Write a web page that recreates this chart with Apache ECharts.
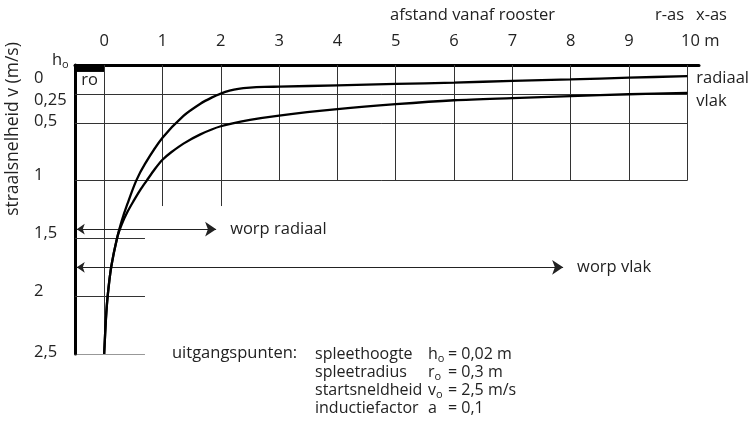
<!DOCTYPE html>
<html>
<head>
<meta charset="utf-8">
<script src="https://cdn.jsdelivr.net/npm/echarts@6/dist/echarts.min.js"></script>
<style>
html,body{margin:0;padding:0;background:#fff;}
#chart{width:754px;height:425px;}
</style>
</head>
<body>
<div id="chart"></div>
<script>
// assen
var xTicks = [0,1,2,3,4,5,6,7,8,9,10];
var vTicks = [0,0.25,0.5,1,1.5,2,2.5];

// radiaal
var radiaalX = [0,0.03,0.06,0.12,0.22,0.3,0.4,0.55,0.7,1,1.36,1.65,1.85,2,2.15,2.3,2.5,2.75,3,4,5,6,7,8,9,10];
var radiaalV = [2.5,2.2,2.0,1.75,1.5,1.35,1.2,1.0,0.855,0.63,0.44,0.335,0.28,0.247,0.222,0.206,0.196,0.19,0.1875,0.176,0.164,0.152,0.138,0.125,0.11,0.096];

// vlak
var vlakX = [0,0.03,0.06,0.12,0.22,0.3,0.4,0.5,0.62,0.73,0.87,1,1.15,1.36,1.65,2,2.5,3,4,5,6,7,8,9,10];
var vlakV = [2.5,2.2,2.0,1.75,1.5,1.38,1.27,1.18,1.08,1.0,0.9,0.82,0.755,0.68,0.6,0.53,0.475,0.437,0.382,0.339,0.305,0.286,0.269,0.253,0.241];

// rasterlijnen: [v, x van, x tot] en [x, v van, v tot]
var hLines = [[0.25,-0.5,10],[0.5,-0.5,10],[1,-0.5,10],[1.5,-0.5,0.7],[2,-0.5,0.7],[2.5,-0.5,0.7]];
var vLines = [[0,0,2.5],[1,0,1.22],[2,0,1.22],[3,0,1],[4,0,1],[5,0,1],[6,0,1],[7,0,1],[8,0,1],[9,0,1],[10,0,1]];

// worp
var worpNames = ['worp radiaal','worp vlak'];
var worpX = [1.92,7.87];
var worpV = [1.42,1.75];

// spleet (ho x ro)
var spleetX = [-0.5,0];
var spleetV = [0,0.06];

// uitgangspunten
var paramNames = ['spleethoogte','spleetradius','startsneldheid','inductiefactor'];
var paramSymbols = ['h','r','v','a'];
var paramSubs = ['o','o','o',''];
var paramValues = ['0,02 m','0,3 m','2,5 m/s','0,1'];

var FONT = '"Open Sans", sans-serif';
var FS = 16.5;
var TXT = '#222';

function pairs(xs, vs) {
    var d = [];
    for (var i = 0; i < xs.length; i++) {
        d.push([xs[i], vs[i]]);
    }
    return d;
}

function gridData() {
    var d = [];
    for (var i = 0; i < hLines.length; i++) {
        d.push({coords: [[hLines[i][1], hLines[i][0]], [hLines[i][2], hLines[i][0]]]});
    }
    for (var i = 0; i < vLines.length; i++) {
        d.push({coords: [[vLines[i][0], vLines[i][1]], [vLines[i][0], vLines[i][2]]]});
    }
    return d;
}

function worpData() {
    var d = [];
    for (var i = 0; i < worpNames.length; i++) {
        d.push({name: worpNames[i], coords: [[-0.47, worpV[i]], [worpX[i], worpV[i]]]});
    }
    return d;
}

function vLabel(v) {
    var s = String(v).replace('.', ',');
    if (v === 0) return '{a|' + s + '}';
    if (v === 0.25) return '{b|' + s + '}';
    if (v >= 1 && v <= 2) return '{c|' + s + '}';
    return '{n|' + s + '}';
}

function xLabel(v) {
    if (v === 10) return '{m|10 m}';
    return String(v);
}

var paramText = [], symText = [], valText = [];
for (var i = 0; i < paramNames.length; i++) {
    paramText.push(paramNames[i]);
    symText.push(paramSymbols[i] + (paramSubs[i] ? '{s|' + paramSubs[i] + '}' : ''));
    valText.push('= ' + paramValues[i]);
}

var subRich = {s: {fontSize: 11, fontFamily: FONT, fill: TXT, padding: [9, 0, 0, 0]}};
var font = FS + 'px ' + FONT;
var blockFont = '16px ' + FONT;

var myChart = echarts.init(document.getElementById('chart'));
var option = {
    backgroundColor: '#fff',
    textStyle: {fontFamily: FONT, color: TXT},
    animation: false,
    grid: {
        left: 75,
        right: 55,
        top: 65,
        bottom: 71,
        outerBoundsMode: 'none'
    },
    xAxis: {
        type: 'value',
        position: 'top',
        min: -0.5,
        max: 10.2,
        axisLine: {show: true, onZero: false, lineStyle: {color: '#000', width: 3}},
        axisTick: {show: false},
        splitLine: {show: false},
        axisLabel: {
            customValues: xTicks,
            margin: 15,
            fontSize: FS,
            color: TXT,
            formatter: xLabel,
            rich: {m: {fontSize: FS, color: TXT, padding: [0, 0, 0, 26]}}
        }
    },
    yAxis: {
        type: 'value',
        inverse: true,
        min: 0,
        max: 2.5,
        axisLine: {show: true, onZero: false, lineStyle: {color: '#000', width: 3}},
        axisTick: {show: false},
        splitLine: {show: false},
        axisLabel: {
            customValues: vTicks,
            align: 'left',
            margin: 41,
            fontSize: FS,
            color: TXT,
            formatter: vLabel,
            rich: {
                a: {fontSize: FS, color: TXT, padding: [26, 0, 0, 0]},
                b: {fontSize: FS, color: TXT, padding: [12, 0, 0, 0]},
                c: {fontSize: FS, color: TXT, padding: [0, 0, 10, 0]},
                n: {fontSize: FS, color: TXT, padding: [0, 0, 4, 0]}
            }
        }
    },
    series: [
        {
            name: 'raster',
            type: 'lines',
            coordinateSystem: 'cartesian2d',
            silent: true,
            z: 1,
            lineStyle: {color: '#333', width: 1, opacity: 1},
            data: gridData()
        },
        {
            name: 'worp',
            type: 'lines',
            coordinateSystem: 'cartesian2d',
            silent: true,
            z: 2,
            symbol: ['arrow', 'arrow'],
            symbolSize: [8, 11],
            lineStyle: {color: '#222', width: 1, opacity: 1},
            label: {show: true, position: 'end', distance: 14, formatter: '{b}', fontSize: FS, color: TXT},
            data: worpData()
        },
        {
            name: 'radiaal',
            type: 'line',
            smooth: 0.3,
            showSymbol: false,
            z: 3,
            lineStyle: {color: '#000', width: 2.3},
            itemStyle: {color: '#000'},
            endLabel: {show: true, formatter: '{a}', distance: 9, offset: [0, 2], fontSize: FS, color: TXT},
            markArea: {
                silent: true,
                itemStyle: {color: '#000'},
                label: {show: true, position: 'bottom', distance: 0, fontSize: FS, color: TXT},
                data: [[{name: 'ro', coord: [spleetX[0], spleetV[0]]}, {coord: [spleetX[1], spleetV[1]]}]]
            },
            data: pairs(radiaalX, radiaalV)
        },
        {
            name: 'vlak',
            type: 'line',
            smooth: 0.3,
            showSymbol: false,
            z: 3,
            lineStyle: {color: '#000', width: 2.3},
            itemStyle: {color: '#000'},
            endLabel: {show: true, formatter: '{a}', distance: 9, offset: [0, 8], fontSize: FS, color: TXT},
            data: pairs(vlakX, vlakV)
        }
    ],
    graphic: [
        {type: 'text', left: 390, top: 7, style: {text: 'afstand vanaf rooster', font: font, fill: TXT}},
        {type: 'text', left: 655, top: 7, style: {text: 'r-as', font: font, fill: TXT}},
        {type: 'text', left: 696, top: 7, style: {text: 'x-as', font: font, fill: TXT}},
        {type: 'text', x: 13, y: 129, rotation: Math.PI / 2,
            style: {text: 'straalsnelheid v (m/s)', font: '17.5px ' + FONT, fill: TXT, align: 'center', verticalAlign: 'middle'}},
        {type: 'text', left: 52, top: 52, style: {text: 'h{s|o}', font: font, fill: TXT, rich: subRich}},
        {type: 'text', left: 172, top: 345, style: {text: 'uitgangspunten:', font: font, fill: TXT}},
        {type: 'text', left: 315, top: 345, style: {text: paramText.join('\n'), font: blockFont, fill: TXT, lineHeight: 18}},
        {type: 'text', left: 428, top: 345, style: {text: symText.join('\n'), font: blockFont, fill: TXT, lineHeight: 18, rich: subRich}},
        {type: 'text', left: 448, top: 345, style: {text: valText.join('\n'), font: blockFont, fill: TXT, lineHeight: 18}}
    ]
};
myChart.setOption(option);
</script>
</body>
</html>
